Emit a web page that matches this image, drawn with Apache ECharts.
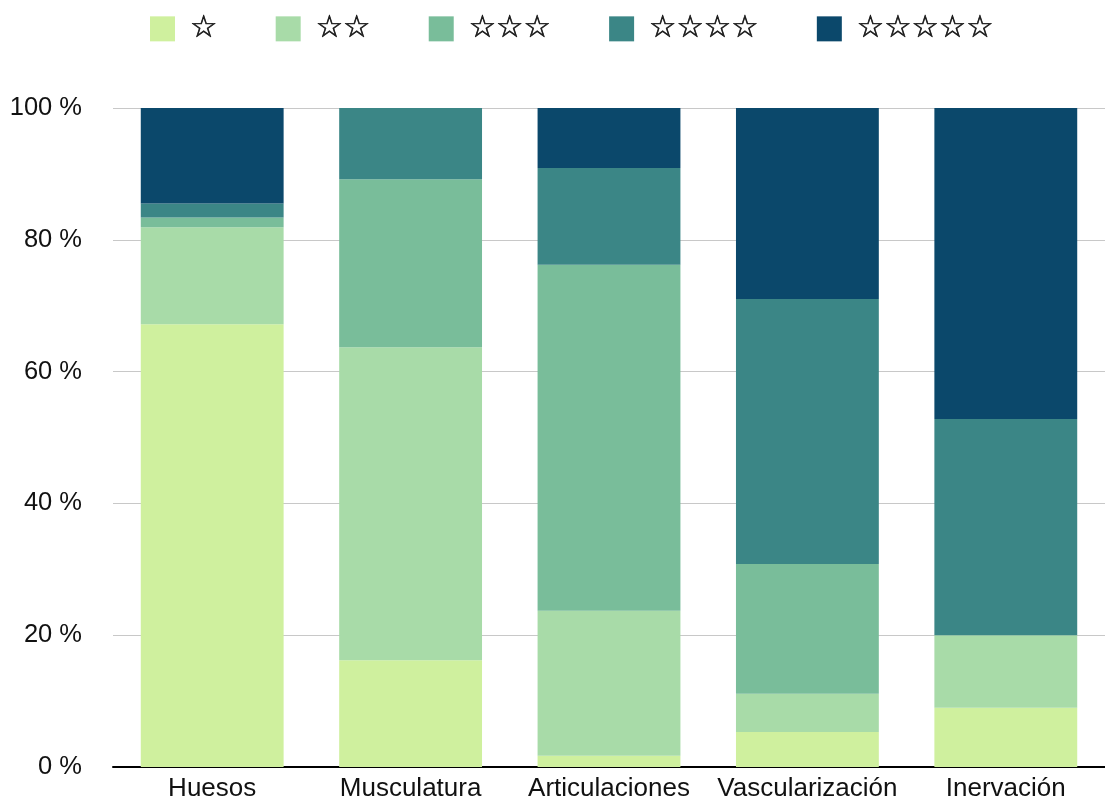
<!DOCTYPE html>
<html>
<head>
<meta charset="utf-8">
<script src="https://cdn.jsdelivr.net/npm/echarts@6/dist/echarts.min.js"></script>
<style>
  html, body { margin: 0; padding: 0; background: #fff; }
  #chart { width: 1105px; height: 805px; }
</style>
</head>
<body>
<div id="chart"></div>
<script>
// Stacked percentage of ratings per anatomical area
const categories = ['Huesos', 'Musculatura', 'Articulaciones', 'Vascularización', 'Inervación'];
const ratingNames = ['☆', '☆☆', '☆☆☆', '☆☆☆☆', '☆☆☆☆☆'];
const oneStar   = [67.2, 16.2, 1.7, 5.3, 9.0];
const twoStars  = [14.7, 47.5, 22.0, 5.8, 11.0];
const threeStars = [1.5, 25.5, 52.5, 19.7, 0];
const fourStars = [2.1, 10.8, 14.7, 40.2, 32.8];
const fiveStars = [14.5, 0, 9.1, 29.0, 47.2];
const yTicks = [0, 20, 40, 60, 80, 100];

const colors = ['#CFF09E', '#A8DBA8', '#79BD9A', '#3B8686', '#0B486B'];
const seriesValues = [oneStar, twoStars, threeStars, fourStars, fiveStars];

const chart = echarts.init(document.getElementById('chart'), null, { renderer: 'canvas' });

chart.setOption({
  animation: false,
  color: colors,
  textStyle: { fontFamily: 'Liberation Sans, Arial, sans-serif' },
  legend: {
    top: 8,
    left: 145,
    itemWidth: 25,
    itemHeight: 25,
    itemGap: 58,
    icon: 'rect',
    data: ratingNames,
    textStyle: {
      fontSize: 30.5,
      color: '#1a1a1a',
      fontFamily: 'DejaVu Sans, sans-serif',
      textBorderColor: '#1a1a1a',
      textBorderWidth: 0.7,
      padding: [14, 0, 0, 10]
    }
  },
  grid: { left: 113, right: 0, top: 108, bottom: 38, containLabel: false },
  xAxis: {
    type: 'category',
    data: categories,
    axisTick: { show: false },
    axisLine: { lineStyle: { color: '#000', width: 2 } },
    axisLabel: { fontSize: 26, color: '#111', margin: 9, interval: 0 }
  },
  yAxis: {
    type: 'value',
    min: yTicks[0],
    max: yTicks[yTicks.length - 1],
    interval: yTicks[1] - yTicks[0],
    axisLine: { show: false },
    axisTick: { show: false },
    splitLine: { lineStyle: { color: '#c8c8c8', width: 1 } },
    axisLabel: {
      fontSize: 25.5,
      color: '#111',
      margin: 31,
      formatter: v => v + ' %'
    }
  },
  series: ratingNames.map((name, i) => ({
    name,
    type: 'bar',
    stack: 'total',
    barCategoryGap: '28%',
    data: seriesValues[i]
  }))
});
</script>
</body>
</html>
